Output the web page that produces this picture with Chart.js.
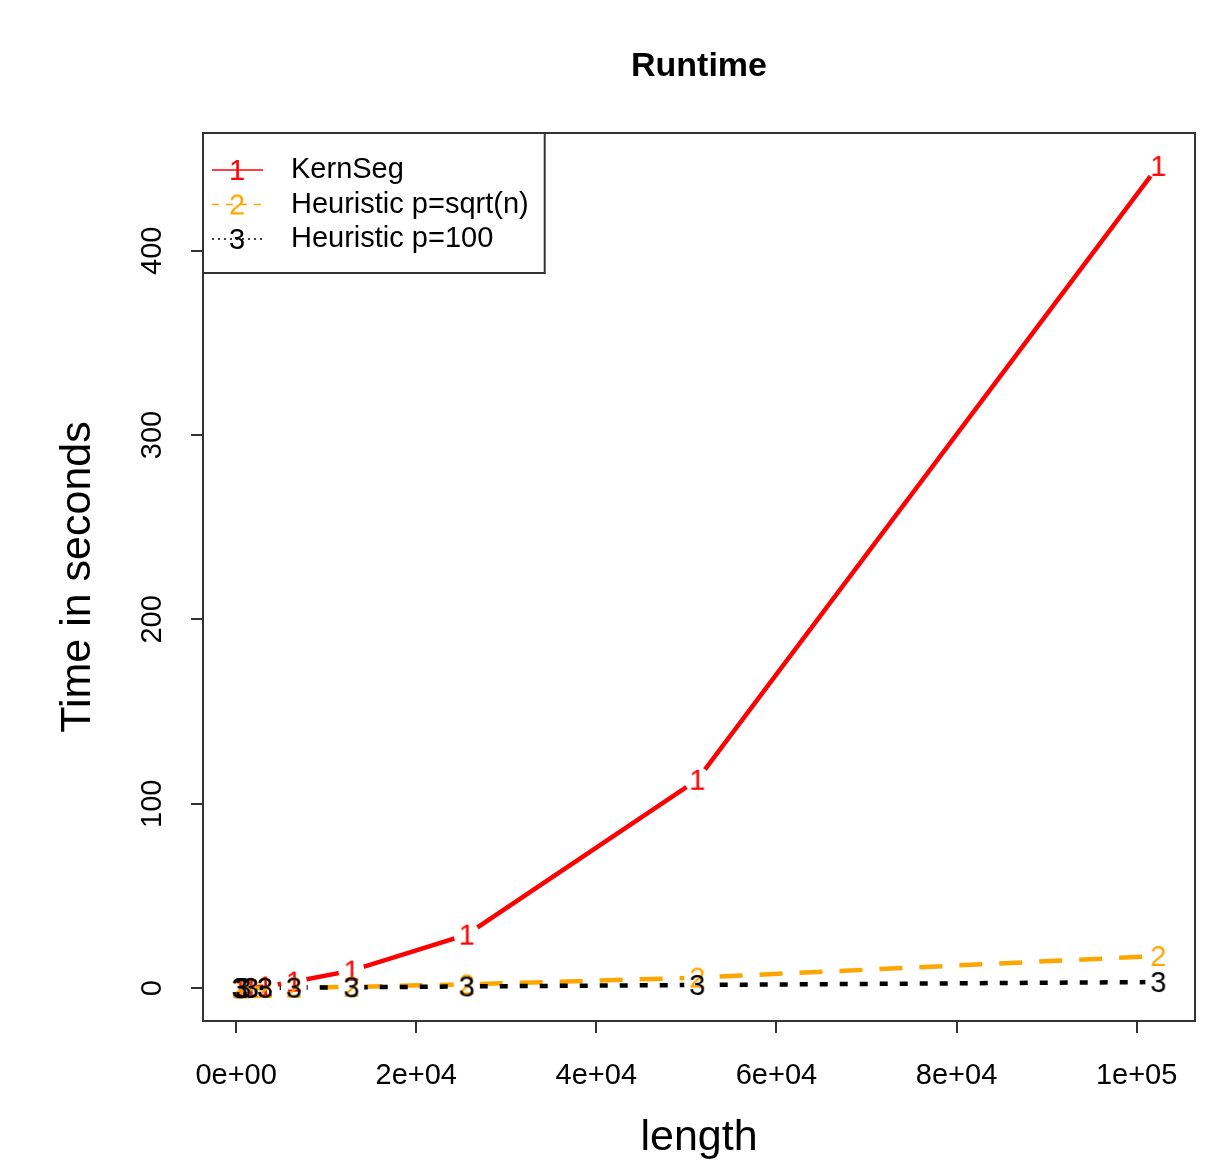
<!DOCTYPE html>
<html>
<head>
<meta charset="utf-8">
<script src="https://cdn.jsdelivr.net/npm/chart.js@4.4.1/dist/chart.umd.min.js"></script>
<style>html, body { margin: 0; padding: 0; background: #fff; }</style>
</head>
<body>
<canvas id="myChart" width="1215" height="1161"></canvas>
<script>
// sequence lengths (x) and runtimes in seconds (y)
var lengths = [400, 800, 1600, 3200, 6400, 12800, 25600, 51200, 102400];
var kernSeg = [0.01, 0.04, 0.15, 0.9, 3.5, 9.5, 29, 113, 446];
var heurSqrt = [0.002, 0.007, 0.025, 0.08, 0.25, 0.7, 2, 5.7, 17.4];
var heur100 = [0.02, 0.04, 0.08, 0.15, 0.25, 0.45, 0.9, 1.7, 3.3];

var seriesNames = ['KernSeg', 'Heuristic p=sqrt(n)', 'Heuristic p=100'];
var xTicks = [0, 20000, 40000, 60000, 80000, 100000];
var xTickLabels = ['0e+00', '2e+04', '4e+04', '6e+04', '8e+04', '1e+05'];
var yTicks = [0, 100, 200, 300, 400];
var yTickLabels = ['0', '100', '200', '300', '400'];

const FONT = '"Liberation Sans", Arial, sans-serif';

// R style range: data range extended by 4% on each side
function rRange(vals) {
    var lo = Math.min.apply(null, vals), hi = Math.max.apply(null, vals);
    var d = (hi - lo) * 0.04;
    return [lo - d, hi + d];
}
var xr = rRange(lengths);
var yr = rRange(kernSeg.concat(heurSqrt, heur100));

// digit used as the plotting character
function digit(ch, color) {
    const c = document.createElement('canvas');
    c.width = 30; c.height = 36;
    const g = c.getContext('2d');
    g.font = '29px ' + FONT;
    g.fillStyle = color;
    g.textAlign = 'center';
    g.textBaseline = 'alphabetic';
    g.fillText(ch, 15, 18 + 0.36 * 29);
    return c;
}

function pts(ys) {
    return lengths.map((x, i) => ({ x: x, y: ys[i] }));
}

const styles = [
    { color: '#FF0000', dash: [], legendDash: [] },
    { color: '#FFA500', dash: [23, 17], legendDash: [7, 7] },
    { color: '#000000', dash: [8, 12], legendDash: [2, 4] }
];

// type="b": line stops short of each plotted digit
const GAP = 13;
const gapPlugin = {
    id: 'gaps',
    beforeDatasetDraw(chart, args) {
        const ctx = chart.ctx;
        ctx.save();
        ctx.beginPath();
        ctx.rect(0, 0, chart.width, chart.height);
        args.meta.data.forEach(p => {
            ctx.moveTo(p.x + GAP, p.y);
            ctx.arc(p.x, p.y, GAP, 0, Math.PI * 2);
        });
        ctx.clip('evenodd');
    },
    afterDatasetDraw(chart, args) {
        const ctx = chart.ctx;
        ctx.restore();
        args.meta.data.forEach(p => p.draw(ctx, chart.chartArea));
    }
};

const boxPlugin = {
    id: 'box',
    afterDraw(chart) {
        const { ctx, chartArea: a } = chart;
        ctx.save();
        ctx.strokeStyle = '#333';
        ctx.lineWidth = 2;
        ctx.strokeRect(a.left, a.top, a.right - a.left, a.bottom - a.top);

        // legend, top left inside the plot
        ctx.font = '29px ' + FONT;
        var widest = 0;
        seriesNames.forEach(n => { widest = Math.max(widest, ctx.measureText(n).width); });
        var textX = a.left + 88;
        var boxW = textX + widest + 16 - a.left;
        ctx.fillStyle = '#fff';
        ctx.fillRect(a.left, a.top, boxW, 140);
        ctx.strokeRect(a.left, a.top, boxW, 140);
        seriesNames.forEach((n, i) => {
            var y = a.top + 37 + i * 34.5;
            ctx.strokeStyle = styles[i].color;
            ctx.lineWidth = 1.5;
            ctx.setLineDash(styles[i].legendDash);
            ctx.beginPath();
            ctx.moveTo(a.left + 9, y);
            ctx.lineTo(a.left + 60, y);
            ctx.stroke();
            ctx.setLineDash([]);
            var img = chart.data.datasets[i].pointStyle;
            ctx.drawImage(img, a.left + 34 - img.width / 2, y - img.height / 2);
            ctx.fillStyle = '#000';
            ctx.textBaseline = 'middle';
            ctx.textAlign = 'left';
            ctx.fillText(n, textX, y);
        });
        ctx.restore();
    }
};

const ctx = document.getElementById('myChart');
const myChart = new Chart(ctx, {
    type: 'line',
    data: {
        datasets: [
            { label: seriesNames[0], data: pts(kernSeg), order: 2 },
            { label: seriesNames[1], data: pts(heurSqrt), order: 1 },
            { label: seriesNames[2], data: pts(heur100), order: 0 }
        ].map((d, i) => Object.assign(d, {
            borderColor: styles[i].color,
            borderDash: styles[i].dash,
            borderWidth: 4.5,
            pointStyle: digit(String(i + 1), styles[i].color),
            pointRadius: 3,
            tension: 0,
            fill: false
        }))
    },
    options: {
        responsive: false,
        animation: false,
        events: [],
        layout: { padding: { left: 0, right: 20, top: 0, bottom: 0 } },
        plugins: {
            legend: { display: false },
            tooltip: { enabled: false },
            title: {
                display: true,
                fullSize: false,
                text: 'Runtime',
                color: '#000',
                font: { family: FONT, size: 34, weight: 'bold', lineHeight: 1.2 },
                padding: { top: 46.6, bottom: 45.6 }
            }
        },
        scales: {
            x: {
                type: 'linear',
                min: xr[0], max: xr[1],
                afterBuildTicks: s => { s.ticks = xTicks.map(v => ({ value: v })); },
                afterFit: s => { s.height = 140; },
                grid: { drawOnChartArea: false, drawTicks: true, tickLength: 12, color: '#333', lineWidth: 2 },
                border: { display: false },
                ticks: {
                    color: '#000',
                    font: { family: FONT, size: 29 },
                    padding: 26,
                    maxRotation: 0,
                    autoSkip: false,
                    callback: (v, i) => xTickLabels[i]
                },
                title: {
                    display: true, text: 'length', color: '#000',
                    font: { family: FONT, size: 43, lineHeight: 1 },
                    padding: { top: 0, bottom: 1.5 }
                }
            },
            y: {
                type: 'linear',
                min: yr[0], max: yr[1],
                afterBuildTicks: s => { s.ticks = yTicks.map(v => ({ value: v })); },
                afterFit: s => { s.width = 203; },
                grid: { drawOnChartArea: false, drawTicks: true, tickLength: 12, color: '#333', lineWidth: 2 },
                border: { display: false },
                ticks: {
                    color: '#000',
                    font: { family: FONT, size: 29 },
                    padding: 14,
                    minRotation: 90,
                    maxRotation: 90,
                    crossAlign: 'center',
                    autoSkip: false,
                    callback: (v, i) => yTickLabels[i]
                },
                title: {
                    display: true, text: 'Time in seconds', color: '#000',
                    font: { family: FONT, size: 43, lineHeight: 1 },
                    padding: { top: 56.5, bottom: 0 }
                }
            }
        }
    },
    plugins: [gapPlugin, boxPlugin]
});
</script>
</body>
</html>
